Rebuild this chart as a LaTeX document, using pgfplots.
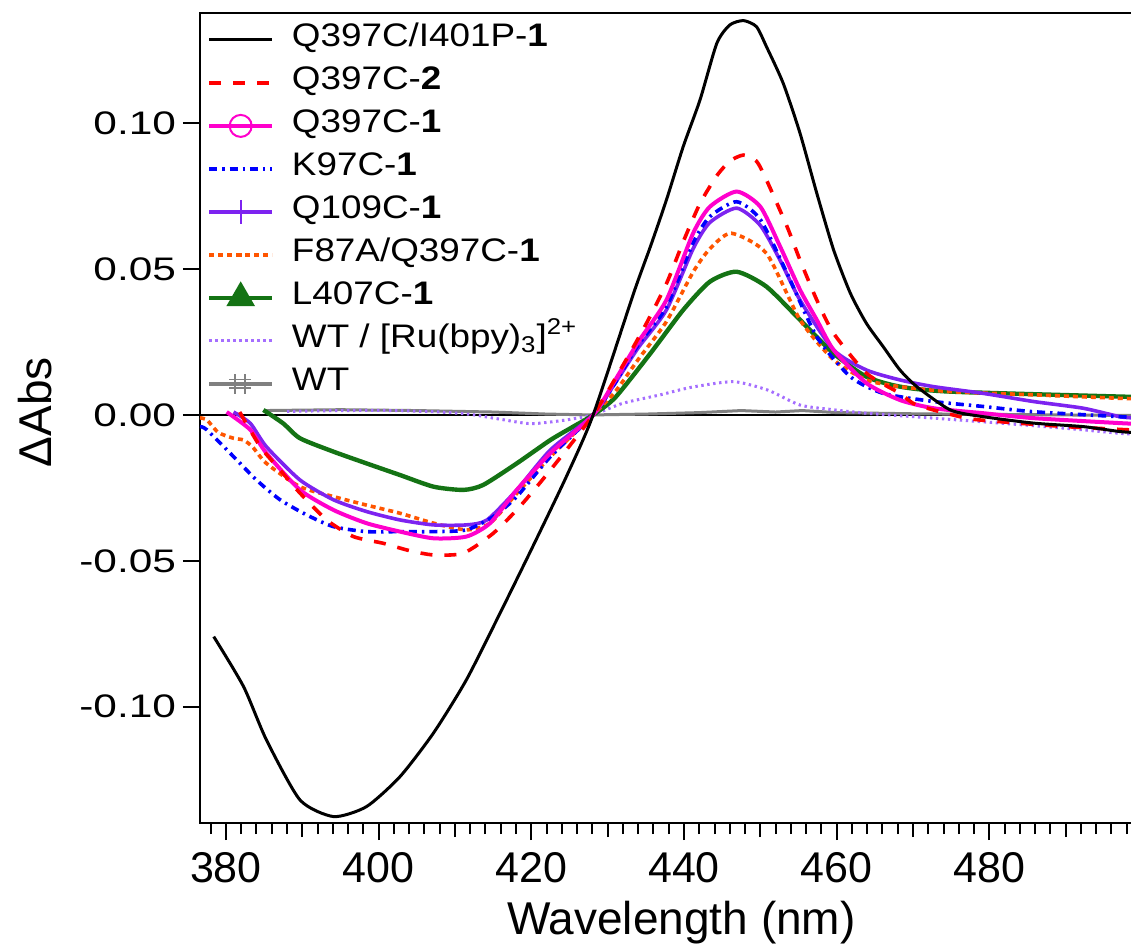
\documentclass[border=0pt]{standalone}
\usepackage{fontspec}
\setmainfont{Liberation Sans}
\newfontfamily\legfont{Liberation Sans}[FakeStretch=1.13]
\newfontfamily\ytfont{Liberation Sans}[FakeStretch=1.3]
\usepackage{pgfplots}
\pgfplotsset{compat=1.18}
\definecolor{cpink}{RGB}{255,0,204}
\definecolor{cblue}{RGB}{0,0,255}
\definecolor{cpurple}{RGB}{125,35,240}
\definecolor{corange}{RGB}{255,85,0}
\definecolor{cgreen}{RGB}{20,115,20}
\definecolor{clav}{RGB}{165,110,255}
\definecolor{cgray}{RGB}{128,128,128}
\begin{document}
\begin{tikzpicture}
\useasboundingbox (-100pt,-63.5pt) rectangle (465.5pt,411.5pt);
\begin{axis}[
  scale only axis, width=471pt, height=405pt,
  xmin=376.6, xmax=500, ymin=-0.1399, ymax=0.1378,
  axis line style={line width=1.3pt},
  every tick/.style={black, line width=1pt},
  tick align=outside, xtick pos=bottom, ytick pos=left,
  xtick={380,400,420,440,460,480}, xticklabels={380,400,420,440,460,480},
  minor xtick={378,380,...,498},
  extra x ticks={390,410,430,450,470,490}, extra x tick labels={,,,,,},
  extra x tick style={major tick length=7pt},
  major tick length=8.5pt, minor tick length=5.5pt,
  ytick={-0.10,-0.05,0,0.05,0.10}, yticklabels={-0.10,-0.05,0.00,0.05,0.10},
  xticklabel style={font=\fontsize{21.5}{24}\selectfont, yshift=-2.5pt},
  yticklabel style={font=\ytfont\fontsize{16.3}{18}\selectfont},
  xlabel={Wavelength (nm)}, ylabel={ΔAbs},
  xlabel style={font=\fontsize{23}{26}\selectfont, at={(axis description cs:0.511,-0.138)}, anchor=base},
  ylabel style={font=\fontsize{23}{26}\selectfont, at={(axis description cs:-0.175,0.507)}, anchor=center},
  legend cell align=left,
  legend style={at={(axis description cs:0,1)}, anchor=north west, draw=none, fill=none,
    inner xsep=3.5pt, inner ysep=2.5pt, row sep=0pt,
    font=\legfont\fontsize{16.3}{19}\selectfont,
    nodes={inner sep=0pt, text height=14pt, text depth=7.5pt}},
  /tikz/every odd column/.append style={column sep=9pt},
  legend image code/.code={\draw[mark repeat=2,mark phase=2,#1] plot coordinates {(0pt,0pt) (15.75pt,0pt) (31.5pt,0pt)};},
]
% legend images
\addlegendimage{black, line width=1.5pt}
\addlegendentry{Q397C/I401P-\textbf{1}}
\addlegendimage{red, line width=1.8pt, dash pattern=on 6pt off 6pt}
\addlegendentry{Q397C-\textbf{2}}
\addlegendimage{cpink, line width=1.8pt, mark=o, mark size=5.5pt, mark options={line width=1pt}}
\addlegendentry{Q397C-\textbf{1}}
\addlegendimage{cblue, line width=1.8pt, dash pattern=on 4pt off 2.5pt on 1.2pt off 2.5pt}
\addlegendentry{K97C-\textbf{1}}
\addlegendimage{cpurple, line width=1.8pt, mark=|, mark size=6pt, mark options={line width=1pt}}
\addlegendentry{Q109C-\textbf{1}}
\addlegendimage{corange, line width=1.8pt, dash pattern=on 2.5pt off 2pt}
\addlegendentry{F87A/Q397C-\textbf{1}}
\addlegendimage{cgreen, line width=1.8pt, mark=triangle*, mark size=6.5pt}
\addlegendentry{L407C-\textbf{1}}
\addlegendimage{clav, line width=1.5pt, dash pattern=on 1.2pt off 1.8pt}
\addlegendentry{WT / [Ru(bpy)\textsubscript{3}]\textsuperscript{2+}}
\addlegendimage{legend image code/.code={
  \draw[cgray, line width=1.8pt] (0pt,0pt)--(31.5pt,0pt);
  \draw[cgray, line width=0.9pt] (13pt,-5pt)--(13pt,5pt) (18pt,-5pt)--(18pt,5pt) (10pt,2.2pt)--(21pt,2.2pt) (10pt,-2.2pt)--(21pt,-2.2pt);}}
\addlegendentry{WT}
% zero line
\addplot[black, line width=0.8pt, forget plot] coordinates {(376.6,0) (500,0)};
% WT
\addplot[cgray, line width=1.5pt, forget plot] coordinates {
(385,0.0015) (395,0.0018) (405,0.0015) (415,0.001) (422,0.0003) (428,0) (435,0.0003) (442,0.0008) (447.5,0.0015) (452,0.001) (455.5,0.0015) (460,0.0008) (470,0.0004) (480,0.0002) (490,0) (499,-0.0002)};
% WT / Ru
\addplot[clav, line width=1.5pt, dash pattern=on 1.2pt off 1.8pt, forget plot, smooth, tension=0.4] coordinates {
(388,0.0012) (395,0.0015) (402,0.0015) (408,0.001) (412,0.0002) (416,-0.0015) (420,-0.003) (424.6,-0.0017) (428,0) (432,0.004) (436.9,0.0069) (441,0.0095) (446.5,0.0114) (451,0.0085) (455.2,0.0034) (459.5,0.0018) (463.9,0.0006) (472.7,-0.0011) (481.4,-0.0028) (490.1,-0.0046) (497.1,-0.0063) (499,-0.0066)};
% L407C-1
\addplot[cgreen, line width=2.2pt, forget plot, smooth, tension=0.4] coordinates {
(384.9,0.0017) (387.5,-0.0029) (389.7,-0.008) (394.1,-0.0126) (398.4,-0.0166) (402.8,-0.0206) (407.2,-0.0246) (411.1,-0.0257) (413.7,-0.024) (418.1,-0.0166) (422.5,-0.0086) (425.5,-0.004) (428.1,0)
(431,0.006) (435.6,0.0211) (439.9,0.036) (443.4,0.0457) (446.9,0.0491) (450.8,0.044) (455.2,0.0326) (459.6,0.0211) (463.9,0.0131) (468.3,0.0097) (474.9,0.008) (497.1,0.0063) (499,0.0063)};
% F87A/Q397C-1
\addplot[corange, line width=1.8pt, dash pattern=on 2.5pt off 2pt, forget plot, smooth, tension=0.4] coordinates {
(376.6,-0.001) (377.5,-0.0017) (379,-0.006) (381,-0.008) (382.3,-0.0086) (383.5,-0.011) (385.3,-0.0166) (389.7,-0.0246) (394.1,-0.028) (398.4,-0.0309) (402.8,-0.0337) (407.2,-0.0371) (411.5,-0.0394) (414.6,-0.0371) (418.1,-0.0269) (422.5,-0.0143) (428.1,0)
(431,0.008) (434,0.019) (437.7,0.032) (441.2,0.049) (443.4,0.057) (446.2,0.0623) (450.8,0.0554) (455.2,0.0326) (459.6,0.0189) (463.9,0.012) (468.3,0.0097) (474.9,0.008) (485.8,0.0069) (497.1,0.0057) (499,0.0056)};
% Q109C-1
\addplot[cpurple, line width=1.8pt, forget plot, smooth, tension=0.4] coordinates {
(381,0.001) (383.2,-0.0029) (385.3,-0.0109) (389.7,-0.0223) (394.1,-0.0291) (398.4,-0.0331) (402.8,-0.036) (407.2,-0.0377) (411.5,-0.0377) (414.2,-0.036) (418.1,-0.0257) (422.5,-0.012) (428.1,0)
(431,0.011) (434,0.023) (437.7,0.036) (441.2,0.057) (443.4,0.066) (446.9,0.0709) (450,0.065) (452.6,0.053) (455.2,0.0394) (459.6,0.0223) (463.9,0.0154) (468.3,0.012) (472.7,0.0097) (479.2,0.0074) (485.8,0.0046) (492.3,0.0023) (497.1,-0.0006) (499,-0.001)};
% K97C-1
\addplot[cblue, line width=1.8pt, dash pattern=on 4pt off 2.5pt on 1.2pt off 2.5pt, forget plot, smooth, tension=0.4] coordinates {
(376.6,-0.004) (377.5,-0.0051) (381,-0.0143) (384,-0.0223) (387.1,-0.0291) (390.6,-0.0343) (394.1,-0.0383) (398.4,-0.04) (402.8,-0.04) (407.2,-0.04) (411.5,-0.0394) (415,-0.0349) (418.1,-0.028) (422.5,-0.0143) (428.1,0)
(431,0.011) (434,0.024) (437.7,0.037) (441.2,0.059) (443.4,0.068) (446.9,0.0731) (450,0.067) (453.5,0.0486) (457.4,0.0268) (461.8,0.0131) (466.1,0.0074) (472.7,0.0046) (479.2,0.0029) (485.8,0.0011) (497.1,-0.0006) (499,-0.0008)};
% Q397C-1
\addplot[cpink, line width=2pt, forget plot, smooth, tension=0.4] coordinates {
(380.1,0.001) (383.2,-0.0051) (385.3,-0.0131) (389.7,-0.0257) (394.1,-0.0326) (398.4,-0.0371) (402.8,-0.04) (407.2,-0.0423) (411.5,-0.0417) (414.6,-0.0371) (418.1,-0.0257) (422.5,-0.0131) (428.1,0)
(431,0.012) (434,0.025) (437.7,0.0394) (441.2,0.0623) (443.4,0.0714) (446.9,0.0766) (450,0.0714) (452.6,0.0577) (455.2,0.0429) (457.4,0.0326) (459.6,0.0223) (463.9,0.0109) (468.3,0.0051) (472.7,0.0023) (479.2,0.0006) (485.8,-0.0011) (497.1,-0.0028) (499,-0.003)};
% Q397C-2
\addplot[red, line width=1.8pt, dash pattern=on 6pt off 6pt, forget plot, smooth, tension=0.4] coordinates {
(381.8,0.001) (384.5,-0.0109) (387.1,-0.0189) (389.7,-0.0268) (393.2,-0.036) (396.7,-0.0417) (400.6,-0.044) (404,-0.0465) (407.2,-0.048) (411.1,-0.0474) (415,-0.0406) (418.5,-0.0314) (422.5,-0.0189) (428.1,0)
(432,0.017) (435,0.031) (437.7,0.045) (440,0.06) (442.1,0.0725) (444.3,0.082) (446,0.087) (447.8,0.0891) (449.5,0.087) (450.8,0.0806) (453.5,0.0646) (455.2,0.0531) (457.4,0.0394) (459.6,0.028) (463.9,0.0143) (468.3,0.0074) (470.5,0.0034) (477,-0.0011) (481.4,-0.0023) (490,-0.004) (499,-0.0052)};
% Q397C/I401P-1
\addplot[black, line width=1.5pt, forget plot, smooth, tension=0.4] coordinates {
(378.4,-0.076) (382.3,-0.0931) (385.3,-0.1114) (389.7,-0.132) (394.1,-0.1377) (398.4,-0.1343) (402.8,-0.124) (407.2,-0.109) (411.5,-0.0908) (415.9,-0.068) (420.2,-0.0451) (424.6,-0.0211) (428.1,0)
(433.4,0.0417) (435.6,0.0577) (437.7,0.0737) (439.9,0.092) (442.1,0.108) (444.3,0.1274) (446.0,0.1337) (447.8,0.1352) (449.5,0.1331) (450.8,0.1263) (453.0,0.1137) (455.2,0.0966) (457.4,0.076) (459.6,0.0566) (461.8,0.0417) (463.9,0.0314) (466.1,0.0234) (468.3,0.0154) (470.5,0.0097) (474.9,0.0017) (479.2,-0.0006) (485.8,-0.0028) (492.3,-0.004) (497.1,-0.0057) (499,-0.006)};
\end{axis}
\end{tikzpicture}
\end{document}
